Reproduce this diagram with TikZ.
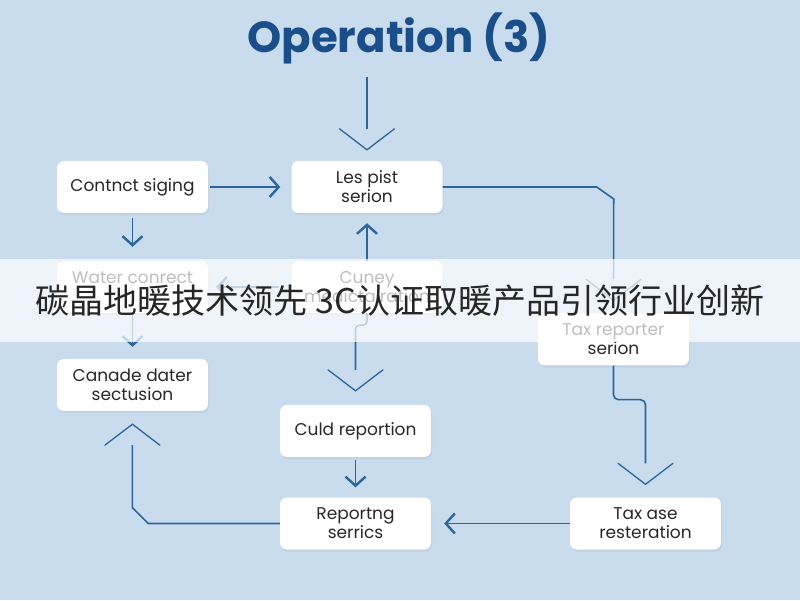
\documentclass[tikz,border=0pt]{standalone}
\usepackage{fontspec}
\setmainfont{Poppins}
\newfontfamily\cjk{Noto Sans CJK SC}
\usepackage{tikz}
\usetikzlibrary{arrows.meta,positioning,shadows}
\definecolor{bgblue}{RGB}{200,220,238}
\definecolor{lineblue}{RGB}{44,101,155}
\definecolor{titleblue}{RGB}{26,78,138}
\definecolor{boxtext}{RGB}{40,40,40}

\pgfdeclarearrow{
  name = OpenVee,
  parameters = {\the\pgfarrowlength,\the\pgfarrowwidth,\the\pgfarrowlinewidth},
  setup code = {
    \pgfarrowssettipend{0pt}
    \pgfarrowssetbackend{-\pgfarrowlength}
    \pgfarrowssetlineend{-\pgfarrowlength}
    \pgfarrowshullpoint{0pt}{0pt}
    \pgfarrowsupperhullpoint{-\pgfarrowlength}{.5\pgfarrowwidth}
    \pgfarrowssavethe\pgfarrowlength
    \pgfarrowssavethe\pgfarrowwidth
    \pgfarrowssavethe\pgfarrowlinewidth
  },
  drawing code = {
    \pgfsetlinewidth{\pgfarrowlinewidth}
    \pgfsetroundcap
    \pgfsetmiterjoin
    \pgfpathmoveto{\pgfpoint{-\pgfarrowlength}{.5\pgfarrowwidth}}
    \pgfpathlineto{\pgfpointorigin}
    \pgfpathlineto{\pgfpoint{-\pgfarrowlength}{-.5\pgfarrowwidth}}
    \pgfusepathqstroke
  },
  defaults = {length=21pt,width=55pt}
}

\begin{document}
\begin{tikzpicture}[
  x=1pt,y=1pt,
  box/.style={fill=white,rounded corners=7pt,minimum width=151pt,minimum height=52pt,
              align=center,text=boxtext,font=\fontsize{17}{19}\selectfont,
              drop shadow={opacity=0.12,shadow xshift=1pt,shadow yshift=-2pt}},
  arr/.style={-{Straight Barb[length=9pt,width=20pt,line width=2.4pt]},line width=1.8pt,lineblue},
  varr/.style={-{OpenVee[length=21pt,width=55pt,line width=1.3pt]},line width=1.6pt,lineblue},
  banner/.style={fill=white,fill opacity=0.7,text opacity=1,minimum width=800pt,minimum height=83pt,
                 inner sep=0pt,font=\cjk\fontsize{34}{40}\selectfont,text=black!85}]
\useasboundingbox (0,0) rectangle (800,600);
\fill[bgblue] (0,0) rectangle (800,600);
\node[font=\bfseries\fontsize{43.5}{48}\selectfont,text=titleblue] (title) at (399,562) {Operation (3)};
\node[box] (contract)  at (132.5,413) {Contnct siging};
\node[box] (les)       at (367,413)   {Les pist\\serion};
\node[box] (water)     at (132.5,313) {Water conrect\\~};
\node[box] (cuney)     at (367,313)   {Cuney\\medictairation};
\node[box] (taxrep)    at (613.5,260.5) {Tax reporter\\serion};
\node[box] (canade)    at (132.5,215) {Canade dater\\sectusion};
\node[box] (culd)      at (355.5,169) {Culd reportion};
\node[box] (reporting) at (355.5,76.5) {Reportng\\serrics};
\node[box] (taxase)    at (645.5,76.5) {Tax ase\\resteration};
\draw[varr,line width=1.3pt,shorten <=10pt,shorten >=11pt] (les.north |- title.south) -- (les.north);
\draw[arr,shorten <=2pt,shorten >=11pt] (contract) -- (les);
\draw[arr,shorten <=5pt,shorten >=14pt] (contract) -- (water);
\draw[arr,shorten >=10pt] (cuney) -- (les);
\draw[arr,line width=1.5pt,shorten <=12pt,shorten >=8pt] (cuney) -- (water);
\draw[varr,shorten >=13pt] (les.east) -- ++(154,0) -- ++(17,-12) -- (taxrep.north);
\draw[arr,shorten >=12pt] (water) -- (canade);
\draw[varr,rounded corners=4pt,shorten >=14pt] (cuney.south) -- ++(0,-12) -- ++(-11.5,0) -- (culd.north);
\draw[varr,rounded corners=5pt,shorten >=13pt] (taxrep.south) -- ++(0,-34) -- ++(32,0) -- (taxase.north);
\draw[arr,shorten <=3pt,shorten >=10pt] (culd) -- (reporting);
\draw[arr,shorten >=13pt] (taxase) -- (reporting);
\draw[varr,shorten >=13pt] (reporting.west) -- ++(-131.5,0) -- ++(-16,16) -- (canade.south);
\node[banner] (caption) at (400,299.5) {碳晶地暖技术领先 3C认证取暖产品引领行业创新};
\end{tikzpicture}
\end{document}
